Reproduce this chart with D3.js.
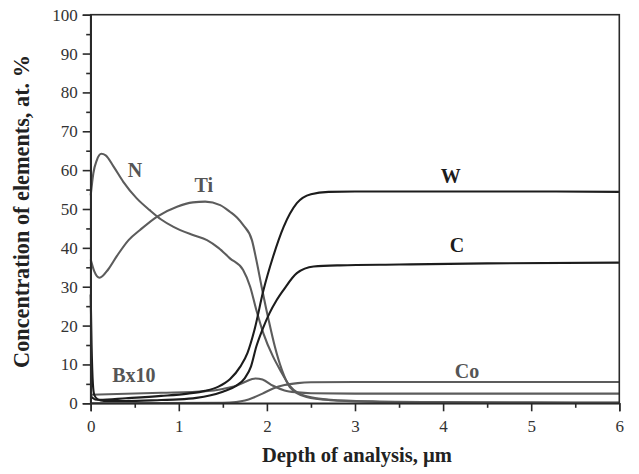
<!DOCTYPE html>
<html><head><meta charset="utf-8">
<script src="https://cdn.jsdelivr.net/npm/d3@7"></script>
<style>body{margin:0;background:#fff}svg{display:block}</style></head>
<body><svg id="c" width="639" height="474"></svg>
<script>
// ---- data (depth in µm, concentration in at.%) ----
const nDepth = [0,0.03,0.07,0.12,0.17,0.26,0.37,0.52,0.67,0.8,0.94,1.16,1.32,1.45,1.58,1.73,1.81,1.88,1.96,2.07,2.15,2.26,2.45,2.72,3.2,4,5,6];
const nVal   = [53.5,59.2,62.6,64.2,63.8,60.9,57,52.8,49.7,47.3,45.4,43.3,42,40,37.3,34.3,30,24,18,12,8.6,4.5,1.8,0.9,0.5,0.3,0.25,0.2];
const tiDepth = [0,0.04,0.1,0.2,0.3,0.43,0.56,0.75,0.98,1.16,1.3,1.47,1.58,1.66,1.73,1.83,1.88,1.94,2.02,2.09,2.17,2.26,2.45,2.72,3.2,4,5,6];
const tiVal   = [37,34,32.3,34.5,38,42,44.6,48,50.6,51.7,51.9,51,49.3,47.8,45.9,42,36.9,30,21.4,14.6,8.6,4.2,1.6,0.8,0.4,0.2,0.15,0.1];
const wDepth = [0,0.05,0.1,0.4,0.8,1.1,1.3,1.45,1.58,1.7,1.78,1.86,1.96,2.07,2.19,2.34,2.5,2.7,3,4,5,6];
const wVal   = [1.8,1.0,0.9,1.3,1.9,2.5,3.2,4.3,6.2,9.5,13,19,29,37.7,45.4,51.5,53.8,54.4,54.5,54.5,54.5,54.4];
const cDepth = [0,0.01,0.025,0.04,0.08,0.15,0.4,0.8,1.0,1.2,1.35,1.5,1.65,1.75,1.82,1.88,1.95,2.03,2.11,2.19,2.34,2.53,2.83,3.5,4.5,6];
const cVal   = [28,15,5,2.2,1.0,0.6,0.6,0.85,1.0,1.4,2.0,3.0,4.5,6.5,9.5,14.6,19,23.2,26.5,29.2,33.5,35.2,35.5,35.7,36,36.2];
const bDepth = [0,0.3,0.8,1.3,1.5,1.65,1.75,1.87,1.95,2.07,2.2,2.35,2.5,3,6];
const bVal   = [2.2,2.4,2.7,3.1,3.7,4.5,5.5,6.4,6.1,4.5,3.3,2.8,2.6,2.5,2.5];
const coDepth = [0,1.5,1.65,1.75,1.85,1.95,2.07,2.2,2.35,2.5,3,6];
const coVal   = [0,0.1,0.3,0.7,1.5,2.5,3.8,4.7,5.2,5.4,5.5,5.5];

const seriesNames = ["N","Ti","W","C","Bx10","Co"];
const labelDepth = [0.503,1.283,4.086,4.158,0.491,4.271];
const labelConc  = [58.3,54.4,56.6,39.0,5.6,6.4];

const xTicks = [0,1,2,3,4,5,6];
const yTicks = [0,10,20,30,40,50,60,70,80,90,100];
const xTitle = "Depth of analysis, µm";
const yTitle = "Concentration of elements, at. %";

// ---- layout ----
const W = 639, H = 474;
const m = {left: 90.7, right: 19.7, top: 14.7, bottom: 70.7};
const svg = d3.select("#c");
const x = d3.scaleLinear().domain([0,6]).range([m.left, W - m.right]);
const y = d3.scaleLinear().domain([0,100]).range([H - m.bottom, m.top]);

const BLACK = "#1c1c1c", GRAY = "#5c5c5c";
const seriesData = [
  {name:"N", d:nDepth, v:nVal, color:GRAY},
  {name:"Ti", d:tiDepth, v:tiVal, color:GRAY},
  {name:"Bx10", d:bDepth, v:bVal, color:GRAY},
  {name:"Co", d:coDepth, v:coVal, color:GRAY},
  {name:"W", d:wDepth, v:wVal, color:BLACK},
  {name:"C", d:cDepth, v:cVal, color:BLACK}
];
const colorOf = {N:GRAY, Ti:GRAY, W:BLACK, C:BLACK, Bx10:GRAY, Co:GRAY};

const line = d3.line().x(p => x(p[0])).y(p => y(p[1])).curve(d3.curveMonotoneX);
const g = svg.append("g");
seriesData.forEach(s => {
  g.append("path")
    .attr("d", line(s.d.map((d,i) => [d, s.v[i]])))
    .attr("fill","none").attr("stroke", s.color)
    .attr("stroke-width", 2.1).attr("stroke-linejoin","round");
});

// frame
svg.append("rect").attr("x", m.left).attr("y", m.top)
  .attr("width", W - m.left - m.right).attr("height", H - m.top - m.bottom)
  .attr("fill","none").attr("stroke","#2a2a2a").attr("stroke-width",1.6);

const FONT = "'Liberation Serif','Times New Roman',serif";

// axes
const yMinor = d3.range(5,100,10);
const xMinor = d3.range(0.5,6,1);
const ax = svg.append("g").attr("transform",`translate(0,${H - m.bottom})`)
  .call(d3.axisBottom(x).tickValues(xTicks).tickFormat(d3.format("d")).tickSize(8).tickPadding(9));
svg.append("g").attr("transform",`translate(0,${H - m.bottom})`)
  .call(d3.axisBottom(x).tickValues(xMinor).tickFormat("").tickSize(4.5))
  .select(".domain").remove();
const ay = svg.append("g").attr("transform",`translate(${m.left},0)`)
  .call(d3.axisLeft(y).tickValues(yTicks).tickFormat(d3.format("d")).tickSize(8).tickPadding(5));
svg.append("g").attr("transform",`translate(${m.left},0)`)
  .call(d3.axisLeft(y).tickValues(yMinor).tickFormat("").tickSize(4.5))
  .select(".domain").remove();
svg.selectAll(".domain").attr("stroke","#2a2a2a").attr("stroke-width",1.6);
svg.selectAll(".tick line").attr("stroke","#2a2a2a").attr("stroke-width",1.6);
svg.selectAll(".tick text").attr("font-family",FONT).attr("font-size",17).attr("fill","#333");

// titles, fitted to their measured spans in the reference
function fitText(sel, target){
  const len = sel.node().getComputedTextLength();
  const fs = parseFloat(sel.attr("font-size"));
  sel.attr("font-size", fs * target / len);
}
const xt = svg.append("text").text(xTitle)
  .attr("x", (262+452)/2).attr("y", 462).attr("text-anchor","middle")
  .attr("font-family",FONT).attr("font-weight","bold").attr("font-size",19).attr("fill","#222");
fitText(xt, 190);
const yt = svg.append("text").text(yTitle)
  .attr("transform",`translate(29,${(55+368)/2}) rotate(-90)`).attr("text-anchor","middle")
  .attr("font-family",FONT).attr("font-weight","bold").attr("font-size",19).attr("fill","#222");
fitText(yt, 313);

// series labels
seriesNames.forEach((n,i) => {
  svg.append("text").text(n)
    .attr("x", x(labelDepth[i])).attr("y", y(labelConc[i]))
    .attr("text-anchor","middle")
    .attr("font-family",FONT).attr("font-weight","bold").attr("font-size",20)
    .attr("fill", colorOf[n] === BLACK ? "#1c1c1c" : "#555");
});
</script>
</body></html>
